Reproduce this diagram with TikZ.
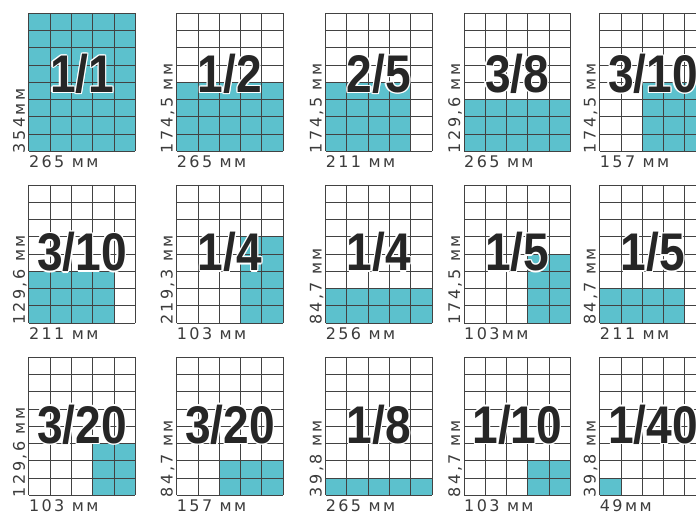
\documentclass[tikz,border=0pt]{standalone}
\usepackage{fontspec}
\setmainfont{DejaVu Sans}
\newfontfamily\fracfont[FakeStretch=0.87]{Liberation Sans}
\newfontfamily\dimfont[LetterSpace=15]{DejaVu Sans}
\usetikzlibrary{positioning}
\definecolor{cellTeal}{HTML}{5CC1CD}
\definecolor{gridInk}{HTML}{424242}
\definecolor{fracInk}{HTML}{262626}
\definecolor{dimInk}{HTML}{3C3C3C}

% white rim round the big fraction
\newcommand\halo[1]{%
  \foreach \hx/\hy in {1.3/0,-1.3/0,0/1.3,0/-1.3,.92/.92,.92/-.92,-.92/.92,-.92/-.92}%
    {\rlap{\kern\hx pt\raisebox{\hy pt}{\color{white}#1}}}%
  #1}

% one sheet: name, left, top, fill from, fill to, fraction, height, width
\newcommand\sheet[8]{%
  \begin{scope}[shift={(#2,#3)},x=21.3pt,y=-17.25pt]
    \fill[cell] (#4) rectangle (#5);
    \foreach \c in {0,...,5} \draw[gridrule] (\c,0) -- (\c,8);
    \foreach \r in {0,...,8} \draw[gridrule] (0,\r) -- (5,\r);
    \node[frac] (#1-frac) at (2.5,\fracbase) {\halo{#6}};
    \node[dimv] (#1-h) at (0,8) {#7};
    \node[dimh] (#1-w) at (0,8) {#8};
  \end{scope}}

\begin{document}
\begin{tikzpicture}[x=1pt,y=-1pt,
    cell/.style={fill=cellTeal},
    gridrule/.style={draw=gridInk,line width=0.9pt},
    frac/.style={font=\fracfont\bfseries\fontsize{53}{53}\selectfont,text=fracInk,
                 anchor=base,inner sep=0pt},
    dimv/.style={xshift=-4pt,yshift=-2pt,rotate=90,anchor=base west,inner sep=0pt,
                 font=\dimfont\fontsize{16}{16}\selectfont,text=dimInk},
    dimh/.style={yshift=-16pt,anchor=base west,inner sep=0pt,
                 font=\dimfont\fontsize{16}{16}\selectfont,text=dimInk}]

  \fill[white] (0,0) rectangle (696,513);
  \useasboundingbox (0,0) rectangle (696,513);

  % first row
  \def\fracbase{4.58}
  \sheet{a1}{28.8}{13.3}{0,0}{5,8}{1/1}{354мм}{265 мм}
  \sheet{a2}{176.7}{13.3}{0,4}{5,8}{1/2}{174,5 мм}{265 мм}
  \sheet{a3}{325.6}{13.3}{0,4}{4,8}{2/5}{174,5 мм}{211 мм}
  \sheet{a4}{464.0}{13.3}{0,5}{5,8}{3/8}{129,6 мм}{265 мм}
  \sheet{a5}{599.7}{13.3}{2,4}{5,8}{3/10}{174,5 мм}{157 мм}

  % second row
  \def\fracbase{4.98}
  \sheet{b1}{28.8}{185.0}{0,5}{4,8}{3/10}{129,6 мм}{211 мм}
  \sheet{b2}{176.7}{185.0}{3,3}{5,8}{1/4}{219,3 мм}{103 мм}
  \sheet{b3}{325.6}{185.0}{0,6}{5,8}{1/4}{84,7 мм}{256 мм}
  \sheet{b4}{464.0}{185.0}{3,4}{5,8}{1/5}{174,5 мм}{103мм}
  \sheet{b5}{599.7}{185.0}{0,6}{4,8}{1/5}{84,7 мм}{211 мм}

  % third row
  \sheet{c1}{28.8}{357.3}{3,5}{5,8}{3/20}{129,6 мм}{103 мм}
  \sheet{c2}{176.7}{357.3}{2,6}{5,8}{3/20}{84,7 мм}{157 мм}
  \sheet{c3}{325.6}{357.3}{0,7}{5,8}{1/8}{39,8 мм}{265 мм}
  \sheet{c4}{464.0}{357.3}{3,6}{5,8}{1/10}{84,7 мм}{103 мм}
  \sheet{c5}{599.7}{357.3}{0,7}{1,8}{1/40}{39,8 мм}{49мм}
\end{tikzpicture}
\end{document}
